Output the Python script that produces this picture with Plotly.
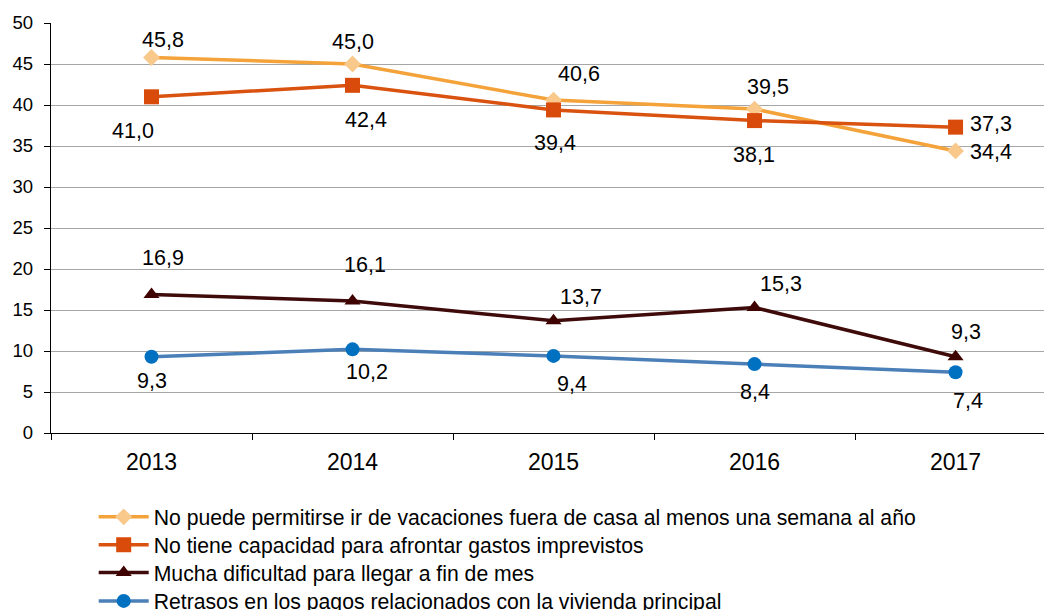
import plotly.graph_objects as go

years = ["2013", "2014", "2015", "2016", "2017"]
names = [
    "No puede permitirse ir de vacaciones fuera de casa al menos una semana al año",
    "No tiene capacidad para afrontar gastos imprevistos",
    "Mucha dificultad para llegar a fin de mes",
    "Retrasos en los pagos relacionados con la vivienda principal",
]
vacaciones = [45.8, 45.0, 40.6, 39.5, 34.4]
imprevistos = [41.0, 42.4, 39.4, 38.1, 37.3]
fin_de_mes = [16.9, 16.1, 13.7, 15.3, 9.3]
retrasos = [9.3, 10.2, 9.4, 8.4, 7.4]

series = [vacaciones, imprevistos, fin_de_mes, retrasos]
line_colors = ["#F4A23A", "#D9520F", "#3F0A0A", "#4B7FB8"]
marker_colors = ["#F9C98C", "#D84B0B", "#3F0000", "#0070C0"]
symbols = ["diamond", "square", "triangle-up", "circle"]
msizes = [13, 15, 14, 14]

# label offsets (px) per series/point: (xshift, yshift)
label_offsets = [
    [(11, 17), (0, 22), (25, 26), (13, 22), (35, -1)],
    [(-19, -34), (13, -35), (1, -33), (-1, -34), (35, 3)],
    [(11, 36), (12, 36), (27, 24), (26, 24), (10, 25)],
    [(0, -24), (14, -23), (18, -28), (0, -28), (12, -29)],
]
legend_ids = ["legend", "legend2", "legend3", "legend4"]
legend_y = [-0.205, -0.273, -0.341, -0.41]

FONT = "Liberation Sans, Arial, sans-serif"

fig = go.Figure()
for i, vals in enumerate(series):
    fig.add_trace(go.Scatter(
        x=years, y=vals, name=names[i], mode="lines+markers",
        line=dict(color=line_colors[i], width=3.5),
        marker=dict(symbol=symbols[i], color=marker_colors[i], size=msizes[i]),
        legend=legend_ids[i],
    ))
    for j, v in enumerate(vals):
        dx, dy = label_offsets[i][j]
        fig.add_annotation(
            x=j, y=v, xref="x", yref="y",
            text=f"{v:.1f}".replace(".", ","),
            showarrow=False, xshift=dx, yshift=dy,
            font=dict(size=21.5, color="#000000", family=FONT),
        )

legend_common = dict(
    x=0.043, xanchor="left", yanchor="middle",
    font=dict(size=21.2), itemwidth=50,
    bgcolor="rgba(0,0,0,0)", borderwidth=0,
)
layout_legends = {}
for k, lid in enumerate(legend_ids):
    layout_legends[lid] = dict(legend_common, y=legend_y[k])

fig.update_layout(
    width=1044, height=610,
    margin=dict(l=51, r=0, t=23, b=177, autoexpand=False),
    paper_bgcolor="white", plot_bgcolor="white",
    font=dict(family=FONT, color="#000000"),
    showlegend=True,
    xaxis=dict(
        type="category", range=[-0.5, 4.44], automargin=False,
        showline=True, linecolor="#000000", linewidth=1.3,
        ticks="outside", tickson="boundaries", ticklen=6, tickcolor="#000000",
        showgrid=False, tickfont=dict(size=23), fixedrange=True,
        ticklabelstandoff=8,
    ),
    yaxis=dict(
        range=[0, 50], dtick=5, tick0=0, automargin=False,
        showline=True, linecolor="#000000", linewidth=1.3,
        ticks="outside", ticklen=6, tickcolor="#000000",
        showgrid=True, gridcolor="#A6A6A6", gridwidth=1,
        zeroline=False, tickfont=dict(size=18.5), fixedrange=True,
        ticklabelstandoff=7,
    ),
    **layout_legends,
)

fig.write_html(
    "out.html",
    config={"displayModeBar": False},
    post_script="document.body.style.margin='0';document.body.style.overflow='hidden';",
)
